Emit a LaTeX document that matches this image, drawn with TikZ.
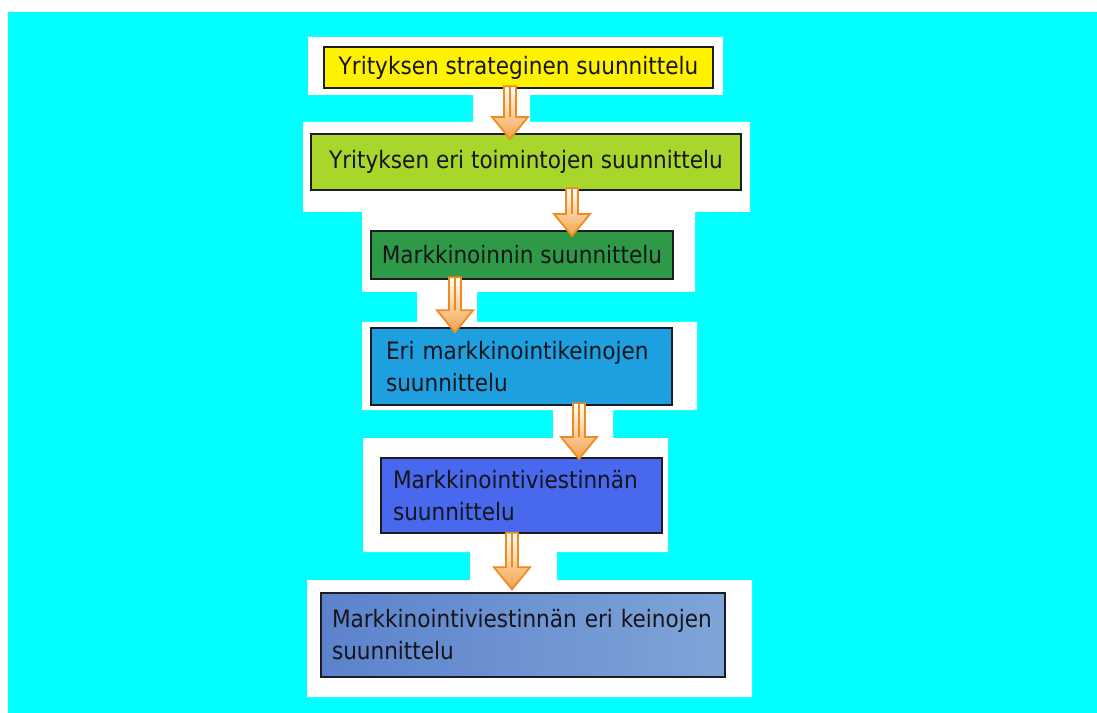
\documentclass[tikz,border=0pt]{standalone}
\usepackage{fontspec}
\setmainfont{DejaVu Sans Condensed}
\usetikzlibrary{calc}
\definecolor{bgcyan}{HTML}{00FFFF}
\definecolor{boxline}{HTML}{1C1C24}
\definecolor{txt}{HTML}{15151A}
\definecolor{cA}{HTML}{FFF200}
\definecolor{cB}{HTML}{A8D62A}
\definecolor{cC}{HTML}{2E9A48}
\definecolor{cD}{HTML}{1EA0E0}
\definecolor{cE}{HTML}{4868EE}
\definecolor{cFl}{HTML}{5C82CC}
\definecolor{cFr}{HTML}{7EA4D8}
\definecolor{arrowor}{HTML}{F08A1E}
\definecolor{arrowhead}{HTML}{F4A248}
\begin{document}
\begin{tikzpicture}[x=0.75pt,y=-0.75pt,
  box/.style={draw=boxline, line width=1.5pt, inner ysep=0pt, text=txt,
    font=\fontsize{18}{24}\selectfont},
  blockarrow/.style={draw=arrowor, line width=1.3pt, line join=miter,
    top color=white, middle color=white!85!arrowhead, bottom color=arrowhead,
    to path={let \p1=(\tikztostart), \p2=(\tikztotarget) in
      (\x1-4.5pt,\y1) -- (\x1-4.5pt,\y2+16.5pt) -- (\x1-13.5pt,\y2+16.5pt) -- (\x1,\y2)
      -- (\x1+13.5pt,\y2+16.5pt) -- (\x1+4.5pt,\y2+16.5pt) -- (\x1+4.5pt,\y1) -- cycle
      (\x1,\y1) -- (\x1,\y2+16.5pt)}}
]
\useasboundingbox (0,0) rectangle (1097,713);
\fill[white] (0,0) rectangle (1097,713);
\fill[bgcyan] (8,12) rectangle (1097,713);
% white backdrop
\fill[white] (308,37) -- (723,37) -- (723,95) -- (530,95) -- (530,122) -- (750,122)
  -- (750,212) -- (695,212) -- (695,292) -- (477,292) -- (477,322) -- (697,322)
  -- (697,410) -- (613,410) -- (613,438) -- (668,438) -- (668,552) -- (557,552)
  -- (557,580) -- (752,580) -- (752,697) -- (307,697) -- (307,580) -- (470,580)
  -- (470,552) -- (363,552) -- (363,438) -- (553,438) -- (553,410) -- (362,410)
  -- (362,322) -- (417,322) -- (417,292) -- (362,292) -- (362,212) -- (303,212)
  -- (303,122) -- (473,122) -- (473,95) -- (308,95) -- cycle;
% boxes
\node[box, fill=cA, minimum width={389*0.75pt}, minimum height={41*0.75pt}] (b1) at (518.5,67.5)
  {Yrityksen strateginen suunnittelu};
\node[box, fill=cB, minimum width={430*0.75pt}, minimum height={56*0.75pt}] (b2) at (526,162)
  {Yrityksen eri toimintojen suunnittelu};
\node[box, fill=cC, minimum width={302*0.75pt}, minimum height={48*0.75pt}] (b3) at (522,255)
  {Markkinoinnin suunnittelu};
\node[box, fill=cD, minimum width={301*0.75pt}, minimum height={77*0.75pt},
  inner xsep={15*0.75pt}, text width={271*0.75pt}, align=left] (b4) at (521.5,366.5)
  {\mbox{Eri markkinointikeinojen}\\suunnittelu};
\node[box, fill=cE, minimum width={281*0.75pt}, minimum height={75*0.75pt},
  inner xsep={12*0.75pt}, text width={257*0.75pt}, align=left] (b5) at (521.5,495.5)
  {\mbox{Markkinointiviestinnän}\\suunnittelu};
\node[box, left color=cFl, right color=cFr, minimum width={404*0.75pt}, minimum height={84*0.75pt},
  inner xsep={11*0.75pt}, text width={382*0.75pt}, align=left] (b6) at (523,635)
  {\mbox{Markkinointiviestinnän eri keinojen}\\suunnittelu};
% arrow x positions
\coordinate (x1) at (510,0);
\coordinate (x2) at (572,0);
\coordinate (x3) at (455,0);
\coordinate (x4) at (579,0);
\coordinate (x5) at (512,0);
\draw[blockarrow] ([yshift=2pt]b1.south -| x1) to ([yshift=-4.5pt]b2.north -| x1);
\draw[blockarrow] ([yshift=2pt]b2.south -| x2) to ([yshift=-4.5pt]b3.north -| x2);
\draw[blockarrow] ([yshift=2pt]b3.south -| x3) to ([yshift=-4pt]b4.north -| x3);
\draw[blockarrow] ([yshift=2pt]b4.south -| x4) to ([yshift=-1.5pt]b5.north -| x4);
\draw[blockarrow] ([yshift=1pt]b5.south -| x5) to ([yshift=2pt]b6.north -| x5);
\end{tikzpicture}
\end{document}
